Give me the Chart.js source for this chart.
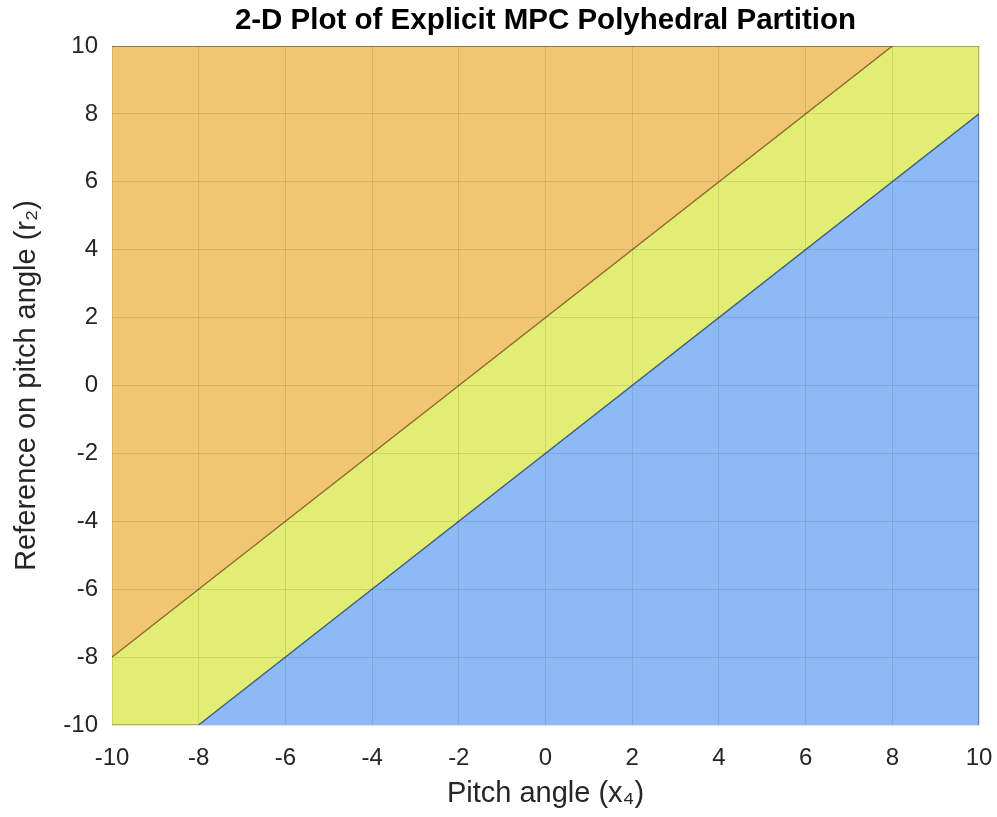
<!DOCTYPE html>
<html>
<head>
<meta charset="utf-8">
<script src="https://cdn.jsdelivr.net/npm/chart.js@4/dist/chart.umd.min.js"></script>
<style>
  body { margin: 0; background: #fff; }
  #wrap { width: 997px; height: 817px; }
</style>
</head>
<body>
<div id="wrap"><canvas id="chart"></canvas></div>
<script>
// polygon vertices of the three regions
const orangeX = [-10, 8, -10];
const orangeY = [-8, 10, 10];
const yellowX = [-10, 8, 10, 10, -8, -10];
const yellowY = [-8, 10, 10, 8, -10, -10];
const blueX = [-8, 10, 10];
const blueY = [-10, 8, -10];

// axis setup
const axisMin = -10;
const axisMax = 10;
const tickStep = 2;

const titleText = "2-D Plot of Explicit MPC Polyhedral Partition";

const FONT = "'Liberation Sans', Arial, Helvetica, sans-serif";

function toPoints(xs, ys) {
  return xs.map((x, i) => ({ x: x, y: ys[i] }));
}

function region(xs, ys, fill, edge) {
  return {
    data: toPoints(xs, ys),
    showLine: true,
    fill: "shape",
    backgroundColor: fill,
    borderColor: edge,
    borderWidth: 1.3,
    pointRadius: 0,
    tension: 0,
  };
}

// title centred over the plot area, like matlab does it
const plotTitle = {
  id: "plotTitle",
  afterDraw(chart) {
    const { ctx, chartArea } = chart;
    ctx.save();
    ctx.font = "bold 29.5px " + FONT;
    ctx.fillStyle = "#000";
    ctx.textAlign = "center";
    ctx.textBaseline = "middle";
    ctx.fillText(titleText, (chartArea.left + chartArea.right) / 2, 21);
    ctx.restore();
  },
};

// datasets earlier in the list are painted on top
new Chart(document.getElementById("chart"), {
  type: "scatter",
  data: {
    datasets: [
      region(blueX, blueY, "#8DB9F5", "#3F5F8F"),
      region(orangeX, orangeY, "#F0C673", "#8E6D2E"),
      region(yellowX, yellowY, "#E1EE73", "#9AA640"),
    ],
  },
  plugins: [plotTitle],
  options: {
    responsive: true,
    maintainAspectRatio: false,
    animation: false,
    layout: { padding: { top: 46, right: 18 } },
    plugins: {
      legend: { display: false },
      tooltip: { enabled: false },
      title: { display: false },
    },
    scales: {
      x: {
        type: "linear",
        min: axisMin,
        max: axisMax,
        border: { display: false },
        grid: { color: "rgba(38,38,38,0.12)", drawTicks: false, z: 1 },
        ticks: {
          stepSize: tickStep,
          autoSkip: false,
          maxRotation: 0,
          padding: 19,
          color: "#262626",
          font: { family: FONT, size: 24 },
        },
        title: {
          display: true,
          text: "Pitch angle (x\u2084)",
          color: "#262626",
          font: { family: FONT, size: 29 },
          padding: { top: 0, bottom: 6 },
        },
        afterFit: (s) => {
          s.height = 92;
          s.paddingLeft = 0;
          s.paddingRight = 0;
        },
      },
      y: {
        type: "linear",
        min: axisMin,
        max: axisMax,
        border: { display: false },
        grid: { color: "rgba(38,38,38,0.12)", drawTicks: false, z: 1 },
        ticks: {
          stepSize: tickStep,
          autoSkip: false,
          padding: 14,
          color: "#262626",
          font: { family: FONT, size: 24 },
        },
        title: {
          display: true,
          text: "Reference on pitch angle (r\u2082)",
          color: "#262626",
          font: { family: FONT, size: 29 },
          padding: { top: 10, bottom: 0 },
        },
        afterFit: (s) => {
          s.width = 112;
          s.paddingTop = 0;
          s.paddingBottom = 0;
        },
      },
    },
  },
});
</script>
</body>
</html>
